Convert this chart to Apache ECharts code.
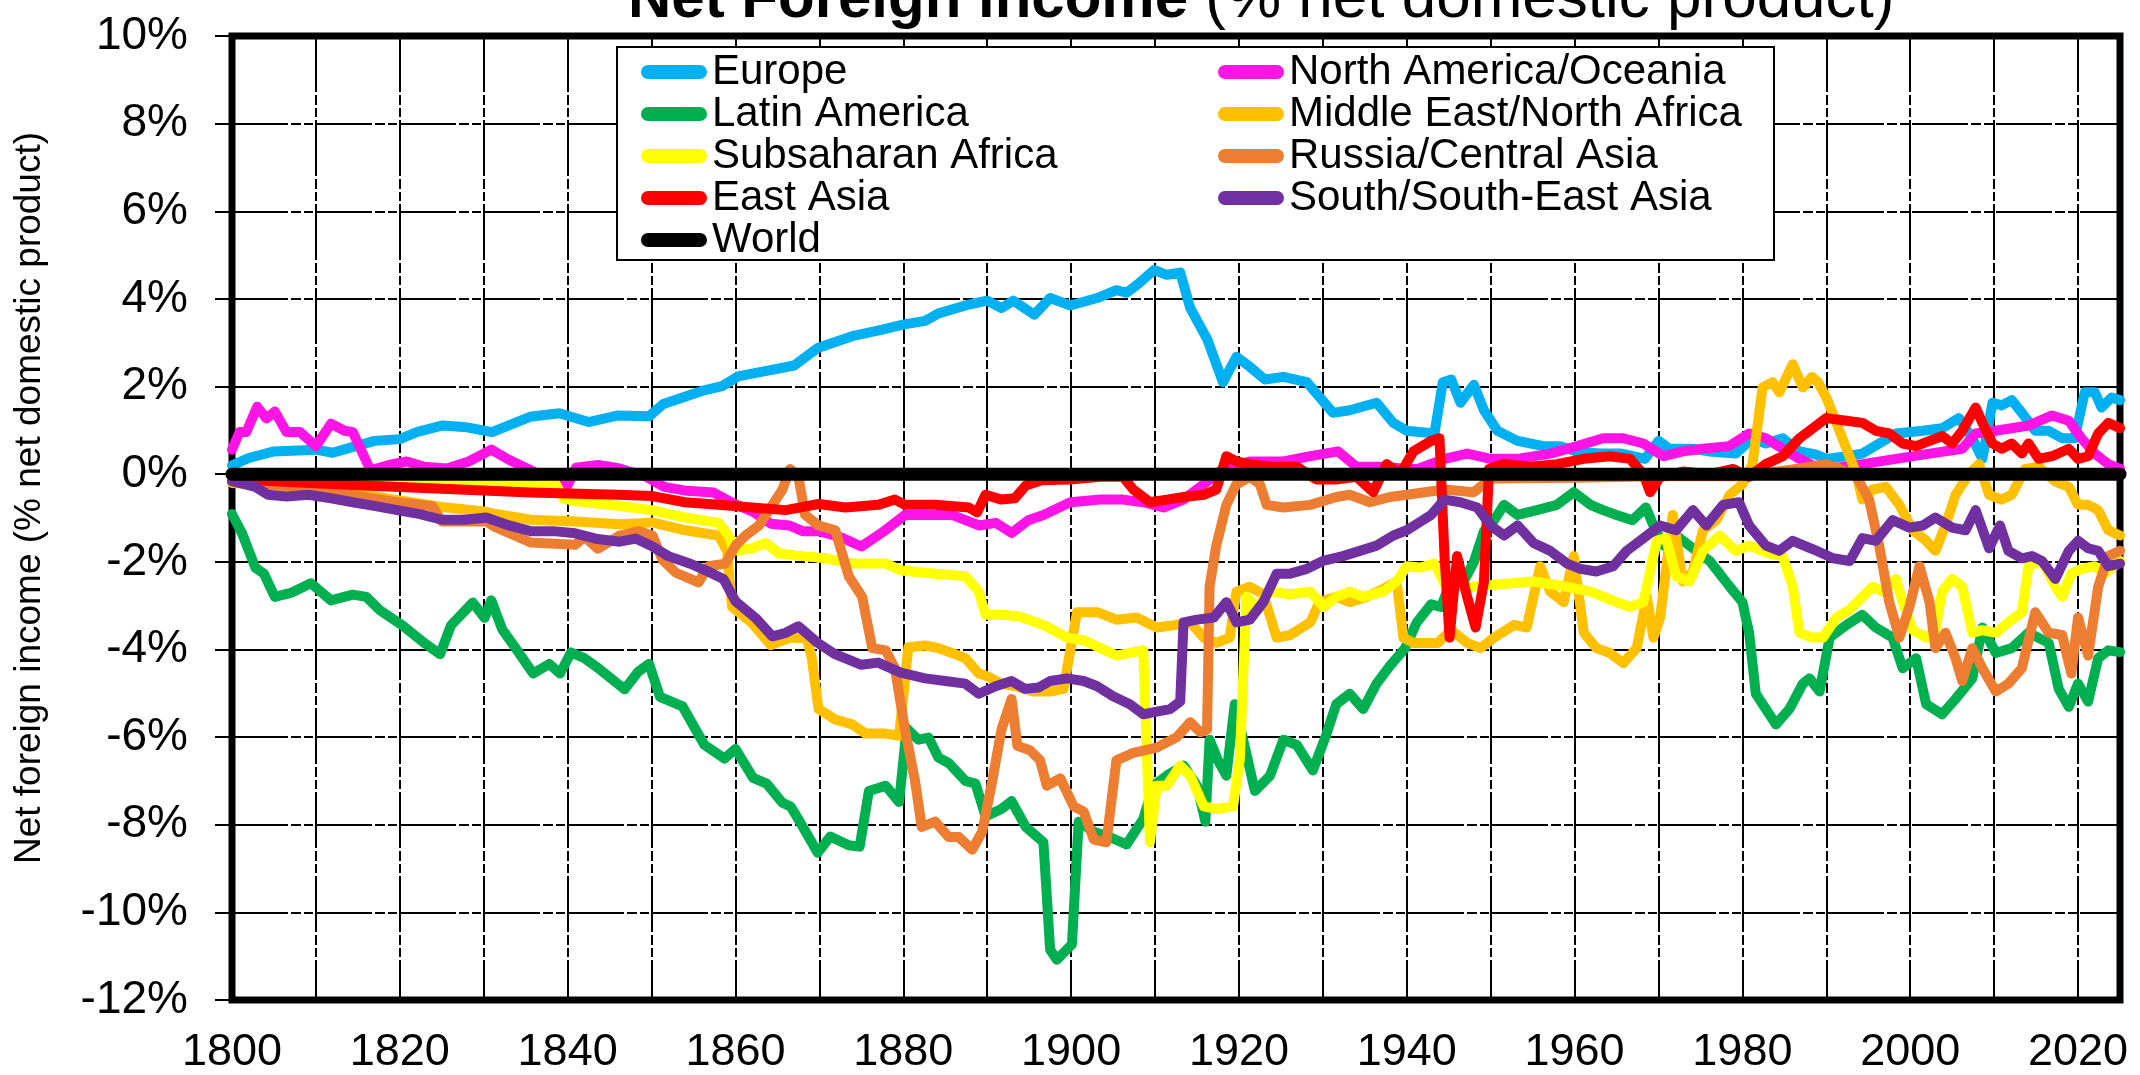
<!DOCTYPE html>
<html>
<head>
<meta charset="utf-8">
<title>Net Foreign income (% net domestic product)</title>
<script src="https://cdn.jsdelivr.net/npm/echarts@6/dist/echarts.min.js"></script>
<style>
  html, body { margin: 0; padding: 0; background: #fff; }
  #chart { width: 2140px; height: 1075px; }
</style>
</head>
<body>
<div id="chart"></div>
<script>
// Net foreign income by world region, % of net domestic product, 1800-2025.
// Each series is a list of [year, value] pairs.

const xLabelYears = [1800, 1820, 1840, 1860, 1880, 1900, 1920, 1940, 1960, 1980, 2000, 2020];

const europe = [[1800,0.2],[1802,0.37],[1805,0.52],[1810,0.56],[1812,0.49],[1814,0.6],[1817,0.76],[1820,0.8],[1822,0.96],[1825,1.11],[1828,1.07],[1831,0.96],[1835.5,1.31],[1839,1.39],[1842.5,1.19],[1846,1.34],[1849.7,1.32],[1851.4,1.6],[1856,1.9],[1858.4,2.01],[1860.3,2.23],[1864,2.37],[1867,2.48],[1869.8,2.88],[1873.9,3.15],[1877.5,3.3],[1880.1,3.42],[1882.6,3.5],[1884.2,3.67],[1887.4,3.85],[1890,3.96],[1891.7,3.79],[1893.1,3.96],[1895.6,3.64],[1897.5,4.02],[1899.9,3.85],[1903.1,4.02],[1905.4,4.2],[1906.6,4.14],[1907.8,4.31],[1909.9,4.66],[1911.4,4.55],[1913,4.6],[1914.2,3.79],[1916.2,3.09],[1918.1,2.1],[1919.7,2.68],[1921.3,2.45],[1923.1,2.16],[1925.3,2.22],[1928.1,2.1],[1931.2,1.4],[1933.2,1.46],[1936.4,1.63],[1938.4,1.17],[1940,0.99],[1943.3,0.93],[1944.3,2.1],[1945.3,2.16],[1946.4,1.63],[1948,2.04],[1949.2,1.46],[1950.8,0.99],[1953.2,0.76],[1956.3,0.64],[1958.3,0.64],[1960.1,0.52],[1962.9,0.47],[1965.6,0.47],[1968.4,0.35],[1970,0.76],[1971.3,0.58],[1974.1,0.58],[1976,0.52],[1979.2,0.47],[1981.2,0.82],[1982.8,0.7],[1984.8,0.82],[1986.8,0.52],[1988.7,0.45],[1990,0.35],[1992.4,0.41],[1994.3,0.47],[1996.3,0.7],[1998.3,0.93],[2001.5,0.99],[2003.8,1.05],[2005.8,1.28],[2007.4,0.82],[2008.6,0.35],[2009.8,1.63],[2010.9,1.57],[2012.1,1.69],[2013.3,1.4],[2014.9,0.99],[2016.5,0.99],[2018.1,0.82],[2019.6,0.82],[2020.8,1.87],[2022,1.87],[2022.8,1.52],[2024,1.75],[2025,1.69]];

const northAmericaOceania = [[1800,0.56],[1800.9,0.96],[1801.7,0.96],[1803,1.54],[1804.1,1.27],[1805.1,1.43],[1806.5,0.96],[1808.1,0.96],[1810,0.64],[1811.8,1.15],[1813.4,0.99],[1814.4,0.96],[1816.5,0.09],[1818.7,0.21],[1820.8,0.29],[1822.9,0.17],[1825.6,0.13],[1828.2,0.29],[1830.9,0.56],[1833,0.33],[1835.6,0.09],[1838.8,-0.22],[1839.9,-0.29],[1841,0.15],[1843.6,0.21],[1846.2,0.13],[1849.4,-0.06],[1851.5,-0.29],[1854.2,-0.38],[1857.4,-0.42],[1860,-0.69],[1862.1,-0.86],[1864.2,-1.13],[1866.4,-1.17],[1868,-1.3],[1870,-1.3],[1872.7,-1.45],[1875,-1.65],[1877.5,-1.33],[1880.2,-0.93],[1883.4,-0.93],[1885.8,-0.93],[1889,-1.17],[1891,-1.11],[1892.9,-1.34],[1894.9,-1.05],[1896.7,-0.93],[1899.9,-0.64],[1903.5,-0.58],[1906.2,-0.58],[1908.6,-0.64],[1911,-0.76],[1913.4,-0.58],[1915.8,-0.23],[1918.1,0.12],[1921.3,0.29],[1925.3,0.29],[1928.5,0.41],[1931.8,0.52],[1934,0.17],[1937.2,0.17],[1940,0.12],[1941.3,0.12],[1944.5,0.35],[1947.2,0.47],[1950,0.35],[1953.2,0.35],[1957.1,0.47],[1960.3,0.64],[1963.4,0.82],[1965.8,0.82],[1968.2,0.7],[1970.6,0.41],[1972.9,0.52],[1975.3,0.58],[1978.4,0.64],[1980.8,0.93],[1982.8,0.82],[1984.8,0.58],[1986.8,0.35],[1988.7,0.17],[1990.4,0.12],[1994.3,0.23],[1998.3,0.35],[2002.3,0.47],[2006.2,0.58],[2007.8,0.93],[2010.2,0.99],[2014.1,1.11],[2016.9,1.34],[2018.9,1.22],[2020.4,0.82],[2022,0.47],[2023.6,0.23],[2025,0.12]];

const latinAmerica = [[1800,-0.91],[1801.2,-1.35],[1802.8,-2.14],[1803.8,-2.27],[1805.1,-2.8],[1807,-2.71],[1809.4,-2.49],[1811.8,-2.88],[1814.4,-2.75],[1816,-2.8],[1817.6,-3.1],[1820.3,-3.45],[1822.9,-3.85],[1824.8,-4.11],[1826.1,-3.45],[1828.7,-2.93],[1830.1,-3.28],[1830.9,-2.88],[1832.2,-3.54],[1833.5,-3.89],[1835.9,-4.55],[1837.8,-4.33],[1839.1,-4.55],[1840.4,-4.07],[1842,-4.2],[1843.6,-4.42],[1846.8,-4.91],[1848.4,-4.51],[1849.7,-4.33],[1851,-5.08],[1853.7,-5.3],[1856.3,-6.18],[1858.7,-6.49],[1860,-6.27],[1862.1,-6.93],[1863.7,-7.06],[1865.6,-7.5],[1866.6,-7.59],[1867.7,-7.94],[1869.8,-8.64],[1871.3,-8.27],[1873.5,-8.47],[1874.8,-8.5],[1875.9,-7.23],[1877.9,-7.11],[1879.5,-7.48],[1880.4,-5.8],[1881.8,-6.06],[1883,-6.01],[1884.2,-6.47],[1885.4,-6.59],[1887.4,-7.0],[1888.6,-7.06],[1889.8,-7.81],[1891.7,-7.64],[1892.9,-7.46],[1894.6,-8.05],[1896.7,-8.4],[1897.5,-10.85],[1898.3,-11.08],[1900.1,-10.73],[1900.9,-7.93],[1902.7,-8.16],[1904.6,-8.28],[1906.6,-8.45],[1908.6,-7.87],[1909.8,-7.11],[1911.4,-6.88],[1913.4,-6.65],[1915,-7.11],[1916,-7.93],[1916.5,-6.06],[1917.5,-6.53],[1918.5,-6.88],[1919.5,-5.25],[1920.5,-6.06],[1921.9,-7.23],[1923.7,-6.88],[1925.3,-6.06],[1926.9,-6.18],[1928.8,-6.76],[1930.4,-5.95],[1931.6,-5.25],[1933.2,-5.01],[1934.8,-5.36],[1936.4,-4.78],[1938,-4.37],[1939.8,-3.97],[1941.2,-3.38],[1942.9,-2.97],[1944.1,-3.03],[1945.3,-2.4],[1946.5,-2.55],[1948,-2.0],[1949.2,-1.3],[1950,-1.17],[1951.6,-0.7],[1953.2,-0.93],[1955.5,-0.82],[1957.9,-0.7],[1959.9,-0.41],[1961.9,-0.7],[1963.4,-0.82],[1965,-0.93],[1966.9,-1.05],[1968.5,-0.76],[1969.4,-1.17],[1970.6,-1.63],[1972.1,-1.4],[1974.5,-1.75],[1976.1,-1.98],[1978.5,-2.57],[1980,-2.92],[1980.8,-3.62],[1981.6,-5.01],[1983.2,-5.48],[1984,-5.71],[1985.6,-5.36],[1987.2,-4.78],[1988,-4.66],[1989.2,-4.96],[1990.4,-3.73],[1992.4,-3.44],[1994.3,-3.21],[1995.9,-3.5],[1997.9,-3.73],[1999.1,-4.43],[2000.7,-4.2],[2001.9,-5.25],[2003.8,-5.48],[2005.4,-5.13],[2007.4,-4.66],[2008.6,-3.5],[2010.2,-4.08],[2012.1,-3.97],[2014.1,-3.62],[2016.5,-3.85],[2017.7,-4.9],[2018.9,-5.31],[2020,-4.78],[2021.2,-5.19],[2022.4,-4.2],[2023.6,-4.02],[2025,-4.06]];

const middleEastNorthAfrica = [[1800,-0.2],[1805,-0.25],[1810,-0.35],[1815,-0.45],[1820,-0.6],[1825,-0.75],[1830,-0.85],[1831.4,-0.91],[1835.6,-1.04],[1840.9,-1.08],[1846.2,-1.14],[1848.7,-1.12],[1850.1,-1.1],[1854,-1.28],[1858,-1.4],[1859,-1.75],[1859.6,-3.03],[1862,-3.4],[1864.2,-3.9],[1866.5,-3.73],[1868.5,-3.75],[1869.1,-4.2],[1869.9,-5.36],[1871.9,-5.6],[1873.9,-5.71],[1875.5,-5.92],[1877.9,-5.92],[1879.5,-5.97],[1880.6,-3.95],[1882.6,-3.91],[1884.2,-3.97],[1885.8,-4.08],[1887.4,-4.2],[1889,-4.55],[1890,-4.61],[1891.7,-4.78],[1893.6,-4.85],[1895.5,-4.96],[1897.5,-4.96],[1899.1,-4.9],[1900.7,-3.15],[1903.1,-3.15],[1905.4,-3.32],[1907.8,-3.27],[1910.2,-3.5],[1912.6,-3.44],[1914.2,-3.38],[1915.8,-3.73],[1917.3,-3.85],[1918.9,-3.73],[1919.7,-2.68],[1921.3,-2.57],[1922.9,-2.74],[1924.5,-3.73],[1926.1,-3.67],[1928.5,-3.38],[1929.6,-2.92],[1931.6,-2.8],[1933.2,-2.92],[1935.2,-2.8],[1937.2,-2.62],[1938.8,-2.45],[1939.6,-3.73],[1940.8,-3.85],[1943.7,-3.85],[1945.3,-3.56],[1947.2,-3.85],[1948.8,-3.97],[1950.4,-3.73],[1952.8,-3.44],[1954.3,-3.5],[1955.9,-2.1],[1957.1,-2.68],[1958.7,-2.92],[1959.9,-1.87],[1961.1,-3.62],[1962.6,-3.97],[1964.2,-4.08],[1965.8,-4.31],[1967.4,-3.97],[1968.6,-2.8],[1969.4,-3.73],[1970.2,-3.27],[1971.7,-0.93],[1972.9,-2.45],[1974.1,-2.22],[1975.3,-1.28],[1976.9,-1.05],[1978.5,-0.47],[1980,-0.23],[1981.2,0.23],[1982.4,1.98],[1983.6,2.1],[1984.4,1.87],[1986,2.51],[1987.2,1.98],[1988.3,2.22],[1989,2.1],[1990,1.75],[1991.2,1.17],[1992.4,0.58],[1993.6,0],[1994.3,-0.58],[1995.5,-0.35],[1997.1,-0.29],[1998.7,-0.7],[2000.3,-1.28],[2001.9,-1.52],[2003,-1.75],[2004.2,-1.17],[2005.4,-0.47],[2007,0],[2008.2,0.23],[2009.4,-0.47],[2010.9,-0.58],[2012.1,-0.47],[2013.7,0.12],[2015.3,0.17],[2017.3,-0.17],[2018.9,-0.29],[2020,-0.7],[2021.2,-0.7],[2022.4,-0.82],[2023.6,-1.28],[2025,-1.4]];

const subsaharanAfrica = [[1800,-0.1],[1810,-0.12],[1820,-0.15],[1830,-0.17],[1838.5,-0.2],[1839.5,-0.55],[1841,-0.62],[1846,-0.72],[1850,-0.82],[1854,-0.99],[1858,-1.11],[1859.2,-1.4],[1859.8,-1.75],[1862,-1.69],[1863.6,-1.57],[1865.2,-1.81],[1867.9,-1.87],[1870.7,-1.92],[1873.9,-2.04],[1877.9,-2.04],[1879.8,-2.2],[1883.8,-2.27],[1887.4,-2.33],[1889,-2.68],[1889.8,-3.21],[1891.7,-3.21],[1893.7,-3.24],[1896.7,-3.44],[1899.5,-3.73],[1901.5,-3.79],[1903.5,-3.97],[1905.4,-4.14],[1907,-4.08],[1908.6,-4.02],[1909.4,-8.4],[1910.2,-7.11],[1911.4,-7.11],[1913,-6.65],[1914.2,-6.88],[1915.8,-7.58],[1917.3,-7.64],[1919.3,-7.58],[1920.1,-6.53],[1920.9,-2.8],[1922.1,-3.03],[1923.7,-2.68],[1926.1,-2.74],[1928.5,-2.68],[1930.1,-3.03],[1931.6,-2.8],[1933.2,-2.68],[1934.8,-2.8],[1937.2,-2.68],[1938.8,-2.45],[1940,-2.1],[1941.6,-2.13],[1943.3,-2.04],[1944.5,-2.5],[1947.5,-2.57],[1951.2,-2.51],[1955.1,-2.45],[1959.1,-2.57],[1961.9,-2.68],[1965,-2.92],[1966.6,-3.03],[1968.2,-2.92],[1969.8,-1.52],[1970.9,-1.46],[1972.1,-2.33],[1973.7,-2.45],[1975.3,-1.75],[1977.3,-1.4],[1979.2,-1.75],[1980.8,-1.63],[1983.2,-1.81],[1984.8,-1.87],[1986,-2.57],[1986.8,-3.62],[1988.3,-3.73],[1989.6,-3.73],[1991.2,-3.27],[1992.8,-3.09],[1994.3,-2.8],[1995.5,-2.57],[1996.7,-2.68],[1998.3,-2.39],[1999.1,-2.92],[2000.3,-3.56],[2001.9,-3.73],[2003,-3.56],[2003.8,-2.68],[2005,-2.39],[2006.2,-2.57],[2007.4,-3.62],[2008.6,-3.56],[2010.2,-3.62],[2011.7,-3.38],[2013.3,-3.15],[2014.1,-2.1],[2015.7,-1.98],[2017.3,-2.57],[2018.1,-2.8],[2019.2,-2.27],[2020.4,-2.16],[2022,-2.1],[2023.2,-2.27],[2025,-1.98]];

const russiaCentralAsia = [[1800,-0.16],[1805,-0.25],[1809,-0.33],[1815,-0.5],[1819.7,-0.64],[1823.9,-0.73],[1825,-1.08],[1830.3,-1.08],[1831.4,-1.21],[1835.6,-1.56],[1840.9,-1.61],[1842,-1.43],[1843.6,-1.7],[1846.2,-1.4],[1848.5,-1.3],[1850.1,-1.4],[1851.3,-1.95],[1852.9,-2.25],[1855.6,-2.47],[1856.8,-2.1],[1858.8,-2.04],[1860,-1.63],[1861.2,-1.4],[1862.8,-1.17],[1864,-0.82],[1865.6,-0.35],[1866.5,0.12],[1867.5,-0.06],[1868.3,-0.93],[1869.9,-1.17],[1871.9,-1.28],[1873.5,-2.33],[1875.1,-2.8],[1876.3,-3.97],[1877.9,-4.02],[1879,-4.43],[1880.2,-5.83],[1881.4,-7.0],[1882.2,-8.05],[1883.8,-7.93],[1885.4,-8.28],[1886.6,-8.28],[1888.2,-8.57],[1889.4,-8.16],[1890.6,-7.0],[1891.7,-5.83],[1892.9,-5.13],[1893.6,-6.2],[1895.1,-6.3],[1896.3,-6.53],[1897.1,-7.11],[1898.7,-6.94],[1900.3,-7.58],[1901.5,-7.7],[1902.7,-8.34],[1904.2,-8.4],[1905.4,-6.53],[1907.4,-6.36],[1910.2,-6.24],[1912.6,-6.0],[1914.2,-5.66],[1915.4,-5.89],[1916.2,-5.83],[1916.5,-2.57],[1917.3,-1.63],[1918.5,-0.7],[1919.7,-0.23],[1921.3,-0.06],[1922.5,-0.23],[1923.3,-0.7],[1925.3,-0.76],[1928.5,-0.7],[1931.6,-0.52],[1933.2,-0.47],[1935.6,-0.64],[1938,-0.52],[1940,-0.47],[1944.5,-0.35],[1948,-0.41],[1950,-0.1],[1960,-0.08],[1970,-0.05],[1980,-0.05],[1986.4,0.12],[1990,0.23],[1991.6,0.12],[1993.6,-0.06],[1995.1,-0.58],[1996.3,-1.63],[1997.5,-2.92],[1998.7,-3.73],[1999.9,-3.03],[2001.1,-2.1],[2002.3,-2.92],[2003,-3.97],[2004.2,-3.62],[2005.4,-4.2],[2006.2,-4.72],[2007.4,-3.97],[2008.6,-4.43],[2010.2,-4.96],[2011.7,-4.78],[2013.3,-4.43],[2014.9,-3.15],[2016.5,-3.62],[2018.1,-3.67],[2019.2,-4.55],[2020,-3.27],[2021.2,-4.14],[2022.4,-2.57],[2023.6,-1.87],[2025,-1.75]];

const eastAsia = [[1800,0],[1802,-0.12],[1805,-0.16],[1815,-0.25],[1825,-0.33],[1835.6,-0.42],[1846,-0.47],[1850.1,-0.5],[1854,-0.64],[1858,-0.7],[1862,-0.76],[1866,-0.82],[1869.9,-0.68],[1873.1,-0.76],[1877,-0.7],[1879,-0.58],[1880.2,-0.7],[1883.8,-0.7],[1887.8,-0.76],[1888.8,-0.87],[1889.8,-0.47],[1891.7,-0.58],[1893.3,-0.55],[1894.6,-0.26],[1896.5,-0.14],[1899.9,-0.12],[1903.5,-0.06],[1906.2,-0.06],[1907.4,-0.35],[1909.4,-0.64],[1911.4,-0.58],[1913.4,-0.52],[1915.8,-0.47],[1917.3,-0.35],[1918.5,0.41],[1919.7,0.29],[1921.3,0.23],[1923.7,0.17],[1926.9,0.17],[1929.2,-0.12],[1931.6,-0.12],[1934,-0.06],[1936,-0.41],[1937.6,0.23],[1939.2,0],[1940.8,0.52],[1942.9,0.76],[1943.9,0.82],[1944.5,-1.87],[1945.1,-3.73],[1946,-1.87],[1947.2,-2.8],[1948.2,-3.5],[1949.2,-2.45],[1949.8,0.12],[1951.6,0.23],[1954.7,0.17],[1957.9,0.23],[1961.1,0.35],[1964.2,0.41],[1966.6,0.35],[1968.2,0],[1969,-0.41],[1970.2,-0.06],[1972.9,0.06],[1976.1,0],[1978.9,0.12],[1980.8,-0.06],[1982.8,0.23],[1984.8,0.41],[1986.8,0.82],[1988,0.99],[1990,1.28],[1992.4,1.22],[1994.3,1.17],[1995.9,0.99],[1997.5,0.93],[1999.1,0.7],[2000.7,0.64],[2002.3,0.76],[2003.8,0.87],[2005,0.7],[2006.2,0.99],[2007.8,1.52],[2008.6,1.17],[2009.8,0.7],[2010.9,0.58],[2012.1,0.7],[2013.3,0.47],[2014.1,0.7],[2015.3,0.35],[2016.9,0.41],[2018.9,0.58],[2020,0.35],[2021.2,0.41],[2022.4,0.93],[2023.6,1.17],[2025,1.05]];

const southSouthEastAsia = [[1800,-0.16],[1802.8,-0.29],[1804.3,-0.47],[1806.5,-0.51],[1809.1,-0.47],[1811.8,-0.55],[1814.4,-0.64],[1817.1,-0.73],[1819.7,-0.82],[1822.4,-0.91],[1825,-1.04],[1827.7,-1.04],[1830.3,-0.99],[1833,-1.17],[1835.6,-1.3],[1838.3,-1.3],[1840.9,-1.35],[1843.6,-1.48],[1846.2,-1.54],[1848.1,-1.47],[1850,-1.64],[1852,-1.87],[1854.7,-2.05],[1856.5,-2.2],[1858.6,-2.4],[1860,-2.9],[1862.5,-3.3],[1864.4,-3.7],[1866,-3.62],[1867.5,-3.47],[1869.8,-3.85],[1871.8,-4.1],[1875,-4.35],[1877,-4.3],[1879.7,-4.53],[1882.6,-4.66],[1885,-4.72],[1887.4,-4.78],[1889,-5.01],[1891,-4.84],[1892.9,-4.72],[1894.5,-4.9],[1896.1,-4.87],[1897.5,-4.72],[1899.5,-4.66],[1901.5,-4.72],[1903.1,-4.84],[1905,-5.07],[1907,-5.25],[1908.6,-5.48],[1910.2,-5.42],[1911.8,-5.36],[1913,-5.19],[1913.4,-3.38],[1915,-3.32],[1917,-3.27],[1918.5,-2.92],[1919.7,-3.38],[1921.3,-3.32],[1922.9,-2.92],[1924.5,-2.27],[1926.1,-2.27],[1928.1,-2.16],[1930,-1.98],[1932.4,-1.87],[1934.4,-1.75],[1936.4,-1.63],[1938.4,-1.4],[1940,-1.28],[1941.5,-1.1],[1942.9,-0.93],[1944.5,-0.58],[1946.4,-0.64],[1948.4,-0.76],[1950,-1.17],[1951.6,-1.4],[1953.2,-1.17],[1955.1,-1.57],[1957.1,-1.75],[1959.1,-2.04],[1960.7,-2.16],[1962.6,-2.22],[1964.6,-2.1],[1966.2,-1.75],[1968.2,-1.46],[1970.2,-1.17],[1972.1,-1.28],[1974.1,-0.82],[1975.7,-1.17],[1977.7,-0.7],[1979.6,-0.64],[1980.8,-1.17],[1982.8,-1.63],[1984.4,-1.75],[1986,-1.52],[1988.5,-1.72],[1990.8,-1.92],[1992.8,-1.98],[1994.3,-1.46],[1995.9,-1.52],[1997.9,-1.05],[1999.9,-1.22],[2001.5,-1.17],[2003,-0.99],[2005,-1.22],[2006.6,-1.28],[2007.8,-0.82],[2009.4,-1.69],[2010.7,-1.17],[2011.7,-1.75],[2013.3,-1.92],[2014.5,-1.87],[2015.7,-1.98],[2017.3,-2.39],[2018.9,-1.75],[2020,-1.52],[2021.2,-1.69],[2022.4,-1.75],[2023.6,-2.1],[2025,-2.04]];

// World net foreign income is zero by construction.
const world = [[1800,0],[1850,0],[1900,0],[1950,0],[2000,0],[2025,0]];

const FONT = '"Liberation Sans", Arial, Helvetica, sans-serif';
const Y_TITLE = 'Net foreign income (% net domestic product)';

const regions = [
  { name: 'Europe', data: europe, color: '#00B0F0' },
  { name: 'North America/Oceania', data: northAmericaOceania, color: '#FF14E6' },
  { name: 'Latin America', data: latinAmerica, color: '#00B050' },
  { name: 'Middle East/North Africa', data: middleEastNorthAfrica, color: '#FFC000' },
  { name: 'Subsaharan Africa', data: subsaharanAfrica, color: '#FFFF00' },
  { name: 'Russia/Central Asia', data: russiaCentralAsia, color: '#ED7D31' },
  { name: 'East Asia', data: eastAsia, color: '#FF0000' },
  { name: 'South/South-East Asia', data: southSouthEastAsia, color: '#7030A0' },
  { name: 'World', data: world, color: '#000000', width: 13 }
];

const legendLeftColumn = ['Europe', 'Latin America', 'Subsaharan Africa', 'East Asia', 'World'];
const legendRightColumn = ['North America/Oceania', 'Middle East/North Africa', 'Russia/Central Asia', 'South/South-East Asia'];

const pillIcon = 'path://M7,0 L59,0 A7,7 0 0 1 59,14 L7,14 A7,7 0 0 1 7,0 Z';

function legendColumn(names, left) {
  return {
    data: names,
    orient: 'vertical',
    left: left,
    top: 51,
    padding: 0,
    itemGap: 0,
    itemWidth: 66,
    itemHeight: 14,
    icon: pillIcon,
    selectedMode: false,
    textStyle: { fontFamily: FONT, fontSize: 42, color: '#000', lineHeight: 41 }
  };
}

const gridDash = [56, 3, 10, 3, 9, 3];

const chart = echarts.init(document.getElementById('chart'), null, { renderer: 'canvas' });

chart.setOption({
  animation: false,
  backgroundColor: '#ffffff',
  title: {
    text: '{b|Net Foreign income}{r| (% net domestic product)}',
    left: 628,
    top: -31,
    padding: 0,
    textStyle: {
      rich: {
        b: { fontFamily: FONT, fontSize: 60, fontWeight: 'bold', color: '#000' },
        r: { fontFamily: FONT, fontSize: 62, fontWeight: 'normal', color: '#000' }
      }
    }
  },
  legend: [legendColumn(legendLeftColumn, 641), legendColumn(legendRightColumn, 1218)],
  graphic: [
    {
      type: 'rect',
      z: 3,
      shape: { x: 617, y: 47, width: 1157, height: 213 },
      style: { fill: '#ffffff', stroke: '#000000', lineWidth: 2 }
    },
    {
      type: 'text',
      x: 30,
      y: 498,
      rotation: Math.PI / 2,
      style: {
        text: Y_TITLE,
        font: '37px ' + FONT,
        fill: '#000',
        textAlign: 'center',
        textVerticalAlign: 'middle'
      }
    }
  ],
  grid: {
    left: 232, top: 36, width: 1888, height: 964,
    show: true,
    borderColor: '#000',
    borderWidth: 7,
    backgroundColor: 'transparent'
  },
  xAxis: {
    type: 'value',
    min: 1800, max: 2025, interval: 10,
    axisLine: { show: false },
    axisTick: { show: false },
    axisLabel: {
      margin: 30,
      fontFamily: FONT, fontSize: 45, color: '#000',
      showMaxLabel: false,
      formatter: v => (xLabelYears.indexOf(v) >= 0 ? String(v) : '')
    },
    splitLine: { show: true, lineStyle: { color: '#000', width: 2, type: gridDash } }
  },
  yAxis: {
    type: 'value',
    min: -12, max: 10, interval: 2,
    axisLine: { show: false },
    axisTick: { show: true, inside: false, length: 17, lineStyle: { color: '#000', width: 2 } },
    axisLabel: { margin: 44, fontFamily: FONT, fontSize: 46, color: '#000', formatter: '{value}%' },
    splitLine: { show: true, lineStyle: { color: '#000', width: 2, type: gridDash } }
  },
  series: regions.map(r => ({
    name: r.name,
    type: 'line',
    data: r.data,
    color: r.color,
    showSymbol: false,
    symbol: 'none',
    clip: true,
    lineStyle: { color: r.color, width: r.width || 10, cap: 'round', join: 'round' },
    emphasis: { disabled: true }
  }))
});
</script>
</body>
</html>
